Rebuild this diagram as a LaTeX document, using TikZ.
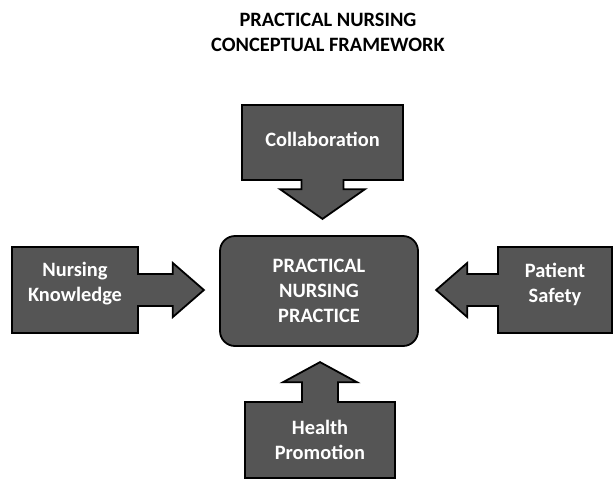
\documentclass[tikz,border=0pt]{standalone}
\usepackage{fontspec}
\setmainfont{Carlito}
\usetikzlibrary{shapes.arrows}

\definecolor{boxgray}{HTML}{555555}

\tikzstyle{callout} = [arrow box, draw=black, line width=0.9pt, fill=boxgray, text=white, font=\bfseries\fontsize{10.2}{12.5}\selectfont, align=center, inner sep=0pt]
\tikzstyle{practice} = [draw=black, line width=0.9pt, fill=boxgray, rounded corners=7.5pt, text=white, font=\bfseries\fontsize{10.2}{12.5}\selectfont, align=center, minimum width=99pt, minimum height=55pt, inner sep=0pt]
\tikzstyle{heading} = [font=\bfseries\fontsize{10.2}{12.5}\selectfont, align=center, inner sep=0pt]

\begin{document}
\begin{tikzpicture}[x=0.5pt,y=-0.5pt]
\useasboundingbox (0,0) rectangle (613,479);

% Title
\node (title) [heading] at (328,32.5) {PRACTICAL NURSING\\CONCEPTUAL FRAMEWORK};

% Centre
\node (practice) [practice] at (319,291) {PRACTICAL\\NURSING\\PRACTICE};

% Callouts round it
\node (collab) [callout, minimum width=80.5pt, minimum height=37.5pt, text depth=3pt, arrow box arrows={south:19pt}, arrow box shaft width=21pt, arrow box head extend=10.75pt, arrow box tip angle=110] at (322.5,142.5) {Collaboration};
\node (know) [callout, minimum width=63pt, minimum height=43pt, text depth=8pt, arrow box arrows={east:32.5pt}, arrow box shaft width=16pt, arrow box head extend=5.5pt, arrow box tip angle=82] at (75,290) {Nursing\\Knowledge};
\node (safety) [callout, minimum width=57pt, minimum height=43pt, text depth=7pt, arrow box arrows={west:30.5pt}, arrow box shaft width=16pt, arrow box head extend=5.5pt, arrow box tip angle=82] at (555,290) {Patient\\Safety};
\node (health) [callout, minimum width=75pt, minimum height=38pt, arrow box arrows={north:19.5pt}, arrow box shaft width=18pt, arrow box head extend=9.5pt, arrow box tip angle=123] at (320,440) {Health\\Promotion};

\end{tikzpicture}
\end{document}
